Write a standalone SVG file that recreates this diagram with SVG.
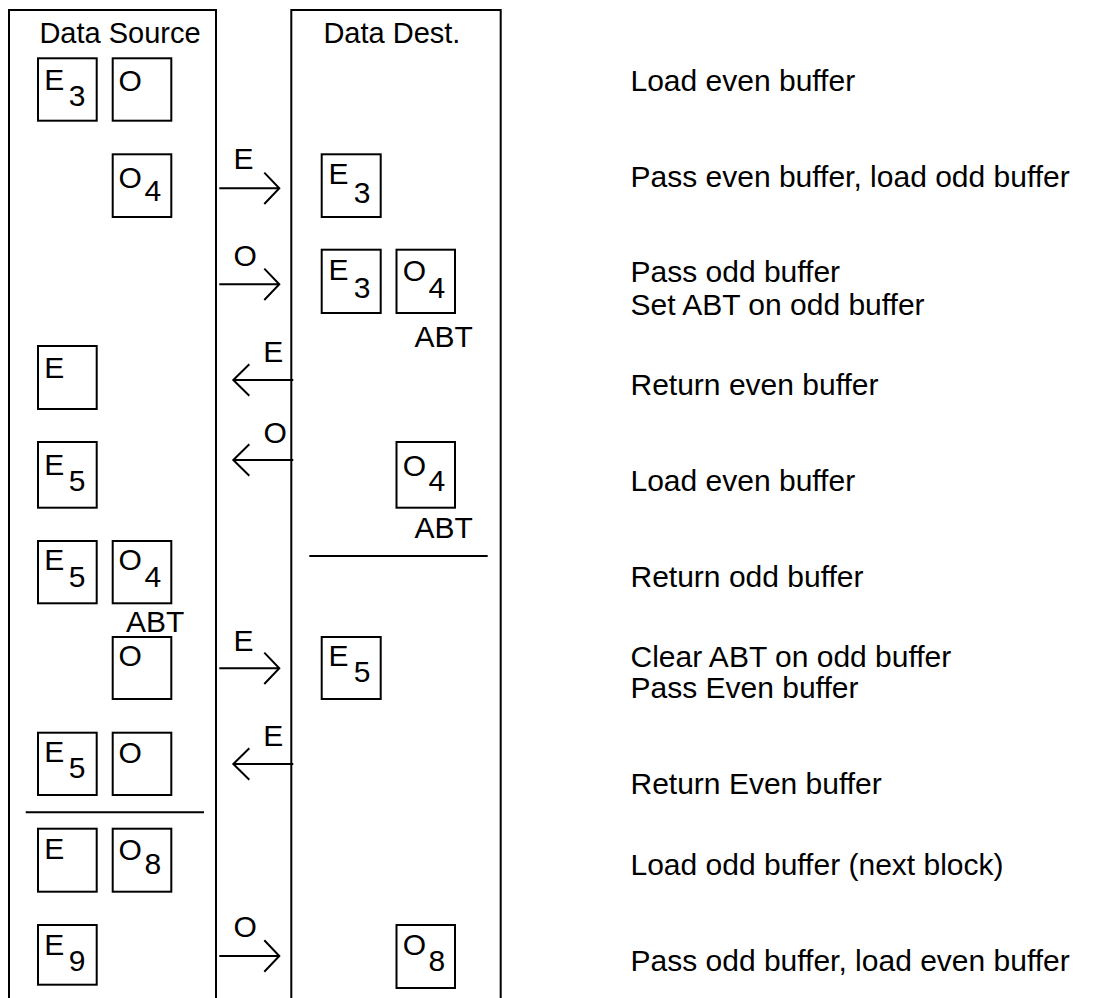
<svg xmlns="http://www.w3.org/2000/svg" width="1117" height="998" viewBox="0 0 1117 998">
<style>
  .ln{fill:none;stroke:#000;stroke-width:2}
  .bx{fill:#fff;stroke:#000;stroke-width:2}
  text{font-family:"Liberation Sans",Arial,Helvetica,sans-serif;font-size:30px;fill:#000}
  .hd{font-size:29px}
</style>
<rect width="1117" height="998" fill="#fff"/>
<g id="panel-source">
  <path class="ln" d="M9,1000 V10 H216 V1000"/>
  <text class="hd" x="39.4" y="42.7">Data Source</text>
  <line class="ln" x1="25.7" y1="812.3" x2="204" y2="812.3"/>
</g>
<g id="panel-dest">
  <path class="ln" d="M291.3,1000 V10 H500.7 V1000"/>
  <text class="hd" x="323.4" y="42.7">Data Dest.</text>
  <line class="ln" x1="309.3" y1="556" x2="487.7" y2="556"/>
</g>
<g id="row1">
  <rect class="bx" x="38" y="58.3" width="58.7" height="62.4"/>
  <text x="44.3" y="90">E</text><text x="68.7" y="106">3</text>
  <rect class="bx" x="112.7" y="58.3" width="58.6" height="62.4"/>
  <text x="118.5" y="91">O</text>
</g>
<g id="row2">
  <rect class="bx" x="112.7" y="154.3" width="58.6" height="62.7"/>
  <text x="118.5" y="187.5">O</text><text x="144.5" y="201">4</text>
  <rect class="bx" x="321.7" y="154.3" width="59" height="62.7"/>
  <text x="328.6" y="184.3">E</text><text x="353.7" y="202.5">3</text>
</g>
<g id="row3">
  <rect class="bx" x="321.7" y="249.7" width="59" height="63.3"/>
  <text x="328.6" y="280">E</text><text x="353.7" y="297.8">3</text>
  <rect class="bx" x="396.5" y="249.7" width="58.5" height="63.3"/>
  <text x="402.8" y="281">O</text><text x="428.5" y="297.7">4</text>
  <text x="414.5" y="346.7">ABT</text>
</g>
<g id="row4">
  <rect class="bx" x="38" y="346" width="58.7" height="63"/>
  <text x="44.3" y="378.3">E</text>
</g>
<g id="row5">
  <rect class="bx" x="38" y="442" width="58.7" height="65.7"/>
  <text x="44.3" y="475">E</text><text x="68.7" y="490.7">5</text>
  <rect class="bx" x="396.5" y="442" width="58.5" height="65.7"/>
  <text x="402.8" y="475.5">O</text><text x="428.5" y="491">4</text>
  <text x="414.5" y="538.3">ABT</text>
</g>
<g id="row6">
  <rect class="bx" x="38" y="541" width="58.7" height="62.3"/>
  <text x="44.3" y="570">E</text><text x="68.7" y="586.7">5</text>
  <rect class="bx" x="112.7" y="541" width="58.6" height="62.3"/>
  <text x="118.5" y="569.5">O</text><text x="144.5" y="586.7">4</text>
  <text x="126" y="631.7">ABT</text>
</g>
<g id="row7">
  <rect class="bx" x="112.7" y="637" width="58.6" height="62"/>
  <text x="118.5" y="666">O</text>
  <rect class="bx" x="321.7" y="637" width="59" height="62"/>
  <text x="328.6" y="666">E</text><text x="353.7" y="682.3">5</text>
</g>
<g id="row8">
  <rect class="bx" x="38" y="732.7" width="58.7" height="62.3"/>
  <text x="44.3" y="761.7">E</text><text x="68.7" y="778.3">5</text>
  <rect class="bx" x="112.7" y="732.7" width="58.6" height="62.3"/>
  <text x="118.5" y="763">O</text>
</g>
<g id="row9">
  <rect class="bx" x="38" y="828.7" width="58.7" height="63"/>
  <text x="44.3" y="859.3">E</text>
  <rect class="bx" x="112.7" y="828.7" width="58.6" height="63"/>
  <text x="118.5" y="859.5">O</text><text x="144.5" y="874.3">8</text>
</g>
<g id="row10">
  <rect class="bx" x="38" y="925" width="58.7" height="59.7"/>
  <text x="44.3" y="955">E</text><text x="68.7" y="970.7">9</text>
  <rect class="bx" x="396.5" y="925" width="58.5" height="63"/>
  <text x="402.8" y="955">O</text><text x="428.5" y="971">8</text>
</g>
<g id="connectors">
  <path class="ln" d="M219.3,188.3 H279.3 M264.3,172.6 L279.3,188.3 L264.3,204"/>
  <text x="233.6" y="169.3">E</text>
  <path class="ln" d="M219.3,284.3 H279.3 M264.3,268.6 L279.3,284.3 L264.3,300"/>
  <text x="233.5" y="266">O</text>
  <path class="ln" d="M293.3,380 H233.3 M249.3,364.3 L233.3,380 L249.3,395.7"/>
  <text x="263.3" y="362.3">E</text>
  <path class="ln" d="M293.3,460 H233.3 M249.3,444.3 L233.3,460 L249.3,475.7"/>
  <text x="263.5" y="443">O</text>
  <path class="ln" d="M219.3,668.3 H279.3 M264.3,652.6 L279.3,668.3 L264.3,684"/>
  <text x="233.6" y="650.7">E</text>
  <path class="ln" d="M293.3,764 H233.3 M249.3,748.3 L233.3,764 L249.3,779.7"/>
  <text x="263.3" y="746">E</text>
  <path class="ln" d="M219.3,956 H279.3 M264.3,940.3 L279.3,956 L264.3,971.7"/>
  <text x="233.5" y="937">O</text>
</g>
<g id="descriptions">
  <text x="630.5" y="91">Load even buffer</text>
  <text x="630.5" y="186.7">Pass even buffer, load odd buffer</text>
  <text x="630.5" y="282.3">Pass odd buffer</text>
  <text x="630.5" y="315">Set ABT on odd buffer</text>
  <text x="630.5" y="395">Return even buffer</text>
  <text x="630.5" y="490.7">Load even buffer</text>
  <text x="630.5" y="586.7">Return odd buffer</text>
  <text x="630.5" y="666.7">Clear ABT on odd buffer</text>
  <text x="630.5" y="698.3">Pass Even buffer</text>
  <text x="630.5" y="794.3">Return Even buffer</text>
  <text x="630.5" y="875">Load odd buffer (next block)</text>
  <text x="630.5" y="970.7">Pass odd buffer, load even buffer</text>
</g>
</svg>
